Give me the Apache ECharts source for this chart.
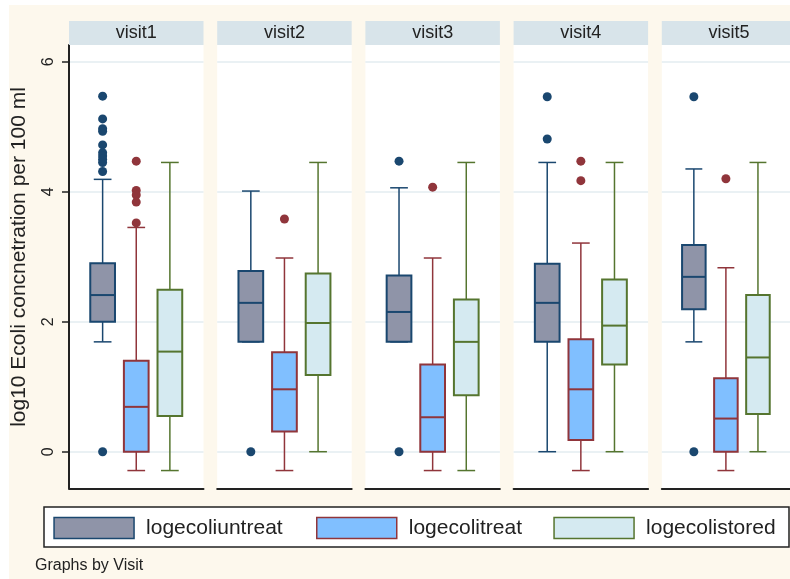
<!DOCTYPE html>
<html>
<head>
<meta charset="utf-8">
<script src="https://cdn.jsdelivr.net/npm/echarts@6/dist/echarts.min.js"></script>
<style>html,body{margin:0;padding:0;background:#fff}#c{width:790px;height:579px}</style>
</head>
<body>
<div id="c"></div>
<script>
// ---- data ----
const visits = ['visit1', 'visit2', 'visit3', 'visit4', 'visit5'];
const seriesNames = ['logecoliuntreat', 'logecolitreat', 'logecolistored'];
const yTicks = [0, 2, 4, 6];
// [min(whisker), Q1, median, Q3, max(whisker)] per visit
const untreatStats = [
  [1.69, 2.00, 2.41, 2.90, 4.19],
  [1.69, 1.69, 2.29, 2.78, 4.01],
  [1.69, 1.69, 2.15, 2.71, 4.06],
  [0.00, 1.69, 2.29, 2.89, 4.45],
  [1.69, 2.19, 2.69, 3.18, 4.35]
];
const treatStats = [
  [-0.29, 0.00, 0.69, 1.40, 3.45],
  [-0.29, 0.31, 0.96, 1.53, 2.98],
  [-0.29, 0.00, 0.53, 1.34, 2.98],
  [-0.29, 0.18, 0.96, 1.73, 3.21],
  [-0.29, 0.00, 0.51, 1.13, 2.83]
];
const storedStats = [
  [-0.29, 0.55, 1.54, 2.49, 4.45],
  [0.00, 1.18, 1.98, 2.74, 4.45],
  [-0.29, 0.87, 1.69, 2.34, 4.45],
  [0.00, 1.34, 1.94, 2.65, 4.45],
  [0.00, 0.58, 1.45, 2.41, 4.45]
];
const untreatOutliers = [
  [5.47, 5.12, 4.97, 4.93, 4.72, 4.60, 4.55, 4.50, 4.45, 4.31, 0],
  [0],
  [4.47, 0],
  [5.46, 4.81],
  [5.46, 0]
];
const treatOutliers = [
  [4.47, 4.02, 3.95, 3.84, 3.52],
  [3.58],
  [4.07],
  [4.47, 4.17],
  [4.20]
];
const storedOutliers = [[], [], [], [], []];

// ---- styles ----
const fills = ['#8f94a8', '#80bfff', '#d5eaf1'];
const strokes = ['#1a476f', '#90353b', '#55752f'];
const allStats = [untreatStats, treatStats, storedStats];
const allOut = [untreatOutliers, treatOutliers, storedOutliers];

const FONT = 'Liberation Sans, Arial, sans-serif';
const panelLeft0 = 69, panelStep = 148.2, panelW = 134.5;
const gridTop = 45, gridBottom = 579 - 488.3;
const yMin = -0.563, yMax = 6.257;

function renderBox(params, api, st) {
  const x = api.value(0);
  const mn = api.value(1), q1 = api.value(2), md = api.value(3), q3 = api.value(4), mx = api.value(5);
  const unit = api.size([1, 0])[0];
  const bw = unit * 0.735, cw = unit * 0.527;
  const c = api.coord([x, 0])[0];
  const yy = v => api.coord([x, v])[1];
  return {
    type: 'group',
    children: [
      {type: 'line', shape: {x1: c, y1: yy(q3), x2: c, y2: yy(mx)}, style: {stroke: st.stroke, lineWidth: 1.5}},
      {type: 'line', shape: {x1: c, y1: yy(q1), x2: c, y2: yy(mn)}, style: {stroke: st.stroke, lineWidth: 1.5}},
      {type: 'line', shape: {x1: c - cw / 2, y1: yy(mx), x2: c + cw / 2, y2: yy(mx)}, style: {stroke: st.stroke, lineWidth: 1.5}},
      {type: 'line', shape: {x1: c - cw / 2, y1: yy(mn), x2: c + cw / 2, y2: yy(mn)}, style: {stroke: st.stroke, lineWidth: 1.5}},
      {type: 'rect', shape: {x: c - bw / 2, y: yy(q3), width: bw, height: yy(q1) - yy(q3)}, style: {fill: st.fill, stroke: st.stroke, lineWidth: 2}},
      {type: 'line', shape: {x1: c - bw / 2, y1: yy(md), x2: c + bw / 2, y2: yy(md)}, style: {stroke: st.stroke, lineWidth: 2}}
    ]
  };
}

const grids = [], xAxes = [], yAxes = [], series = [], graphics = [];
graphics.push({type: 'rect', z: -10, shape: {x: 9, y: 5, width: 781, height: 574}, style: {fill: '#fdf8ed'}, silent: true});

visits.forEach((v, g) => {
  const left = panelLeft0 + panelStep * g;
  grids.push({left: left, width: panelW, top: gridTop, bottom: gridBottom, show: true, backgroundColor: '#ffffff', borderWidth: 0});
  xAxes.push({
    type: 'value', gridIndex: g, min: 0, max: 4,
    axisLine: {show: true, onZero: false, lineStyle: {color: '#222', width: 2}},
    axisTick: {show: false}, axisLabel: {show: false}, splitLine: {show: false}
  });
  yAxes.push({
    type: 'value', gridIndex: g, min: yMin, max: yMax,
    axisLine: {show: g === 0, lineStyle: {color: '#222', width: 2}},
    axisTick: {show: g === 0, length: 7, customValues: yTicks, lineStyle: {color: '#222', width: 1.5}},
    axisLabel: {show: g === 0, customValues: yTicks, rotate: 90, margin: 12, fontSize: 16, color: '#222', fontFamily: FONT},
    splitLine: {show: true, lineStyle: {color: '#e3ecf0', width: 1.5}}
  });
  graphics.push({type: 'rect', z: 1, shape: {x: left, y: 21, width: panelW, height: 24}, style: {fill: '#d8e4ea'}, silent: true});
  graphics.push({type: 'text', z: 2, x: left + panelW / 2, y: 33.5, style: {text: v, fill: '#222', font: '18px ' + FONT, align: 'center', verticalAlign: 'middle'}, silent: true});

  seriesNames.forEach((name, k) => {
    const st = {fill: fills[k], stroke: strokes[k]};
    series.push({
      type: 'custom', name: name, xAxisIndex: g, yAxisIndex: g,
      itemStyle: {color: fills[k], borderColor: strokes[k]},
      encode: {x: 0, y: [1, 2, 3, 4, 5]},
      data: [[k + 1].concat(allStats[k][g])],
      renderItem: function (params, api) { return renderBox(params, api, st); },
      animation: false, silent: true, z: 3
    });
    if (allOut[k][g].length) {
      series.push({
        type: 'scatter', name: name + ' outliers', xAxisIndex: g, yAxisIndex: g,
        symbol: 'circle', symbolSize: 9, itemStyle: {color: strokes[k], opacity: 1},
        data: allOut[k][g].map(val => [k + 1, val]),
        animation: false, silent: true, z: 4
      });
    }
  });
});

// y axis title, legend frame, note
graphics.push({type: 'text', z: 2, x: 19, y: 257, rotation: Math.PI / 2, style: {text: 'log10 Ecoli concnetration per 100 ml', fill: '#222', font: '21px ' + FONT, align: 'center', verticalAlign: 'middle'}, silent: true});
graphics.push({type: 'rect', z: 0, shape: {x: 44, y: 507, width: 745, height: 40}, style: {fill: '#ffffff', stroke: '#222', lineWidth: 1.5}, silent: true});
graphics.push({type: 'text', z: 2, x: 35, y: 566, style: {text: 'Graphs by Visit', fill: '#222', font: '16px ' + FONT, align: 'left', verticalAlign: 'middle'}, silent: true});

const legendLefts = [53.3, 316, 553.3];
const legends = seriesNames.map((name, k) => ({
  left: legendLefts[k], top: 516.7, orient: 'horizontal', icon: 'rect', padding: 0,
  itemWidth: 80, itemHeight: 21, selectedMode: false,
  data: [{name: name, itemStyle: {color: fills[k], borderColor: strokes[k], borderWidth: 1.5}}],
  textStyle: {fontSize: 21, color: '#222', fontFamily: FONT, padding: [0, 0, 0, 7]}
}));

const chart = echarts.init(document.getElementById('c'), null, {renderer: 'canvas'});
chart.setOption({
  backgroundColor: '#ffffff',
  animation: false,
  grid: grids, xAxis: xAxes, yAxis: yAxes,
  legend: legends,
  graphic: graphics,
  series: series
});
</script>
</body>
</html>
